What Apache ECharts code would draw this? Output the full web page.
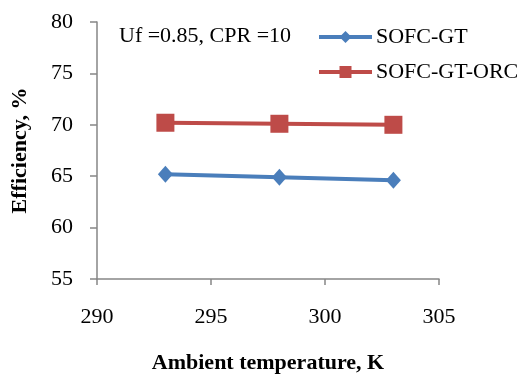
<!DOCTYPE html>
<html>
<head>
<meta charset="utf-8">
<script src="https://cdn.jsdelivr.net/npm/echarts@6/dist/echarts.min.js"></script>
<style>
  html, body { margin: 0; padding: 0; background: #fff; }
  #chart { width: 529px; height: 374px; }
</style>
</head>
<body>
<div id="chart"></div>
<script>
// ambient temperature (K) and efficiencies (%)
const temps = [293, 298, 303];
const sofcGt = [65.2, 64.9, 64.6];
const sofcGtOrc = [70.2, 70.1, 70.0];
const seriesNames = ['SOFC-GT', 'SOFC-GT-ORC'];

const serif = '"Liberation Serif", "DejaVu Serif", serif';
const axisGray = '#868686';

const chart = echarts.init(document.getElementById('chart'));

const pairs = (ys) => temps.map((t, i) => [t, ys[i]]);

const option = {
    animation: false,
    backgroundColor: '#fff',
    title: {
        text: 'Uf =0.85, CPR =10',
        left: 119,
        top: 25,
        padding: 0,
        textStyle: { fontFamily: serif, fontSize: 22, fontWeight: 'normal', color: '#000' }
    },
    legend: {
        orient: 'vertical',
        left: 317,
        top: 26,
        width: 212,
        padding: 0,
        itemWidth: 53,
        itemHeight: 15,
        itemGap: 13,
        lineStyle: { width: 4 },
        textStyle: {
            fontFamily: serif, fontSize: 22, color: '#000',
            padding: [0, 0, 0, -1], overflow: 'none'
        },
        data: seriesNames
    },
    grid: { left: 97, right: 90, top: 22, bottom: 95, outerBoundsMode: 'none' },
    xAxis: {
        type: 'value',
        min: 290,
        max: 305,
        interval: 5,
        name: 'Ambient temperature, K',
        nameLocation: 'middle',
        nameGap: 73,
        nameTextStyle: { fontFamily: serif, fontSize: 22, fontWeight: 'bold', color: '#000' },
        axisLine: { lineStyle: { color: axisGray, width: 1.5 } },
        axisTick: { show: true, length: 6, lineStyle: { color: axisGray, width: 1.5 } },
        axisLabel: { fontFamily: serif, fontSize: 22, color: '#000', margin: 27 },
        splitLine: { show: false }
    },
    yAxis: {
        type: 'value',
        min: 55,
        max: 80,
        interval: 5,
        name: 'Efficiency, %',
        nameLocation: 'middle',
        nameGap: 66,
        nameTextStyle: { fontFamily: serif, fontSize: 22, fontWeight: 'bold', color: '#000' },
        axisLine: { show: true, lineStyle: { color: axisGray, width: 1.5 } },
        axisTick: { show: true, length: 7, lineStyle: { color: axisGray, width: 1.5 } },
        axisLabel: { fontFamily: serif, fontSize: 22, color: '#000', margin: 24 },
        splitLine: { show: false }
    },
    series: [
        {
            name: seriesNames[0],
            type: 'line',
            data: pairs(sofcGt),
            symbol: 'diamond',
            symbolSize: [15, 17],
            color: '#4A7EBB',
            lineStyle: { width: 4, color: '#4A7EBB' }
        },
        {
            name: seriesNames[1],
            type: 'line',
            data: pairs(sofcGtOrc),
            symbol: 'rect',
            symbolSize: 18,
            color: '#BE4B48',
            lineStyle: { width: 4, color: '#BE4B48' }
        }
    ]
};

chart.setOption(option);
</script>
</body>
</html>
